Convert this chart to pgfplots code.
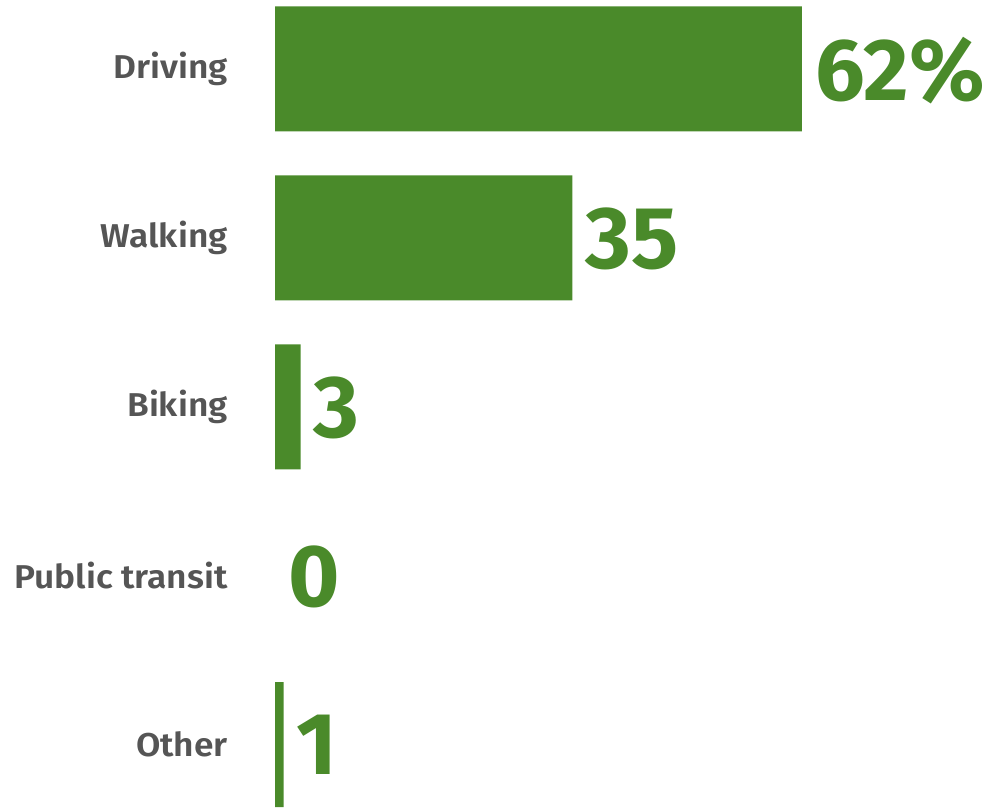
\documentclass[border=0pt]{standalone}
\usepackage{fontspec}
\setmainfont{Fira Sans}
\newfontfamily\labfont[FakeStretch=1.07]{Fira Sans SemiBold}
\usepackage{pgfplots}
\usepackage{pgfplotstable}
\pgfplotsset{compat=1.18}
\definecolor{barg}{HTML}{4A8A2A}
\definecolor{labg}{HTML}{555555}
\pgfplotstableread{
y val lab
0 62 62\%
1 35 35
2 3 3
3 0 0
4 1 1
}\mydata
\begin{document}
\begin{tikzpicture}
\begin{axis}[
  scale only axis,
  width=493.5pt, height=402pt,
  xmin=-32.353, xmax=83.765,
  ymin=-0.4083, ymax=4.3491,
  y dir=reverse,
  axis line style={draw=none},
  xtick=\empty,
  ytick={0,1,2,3,4},
  yticklabels={Driving,Walking,Biking,Public transit,Other},
  major tick length=0pt,
  yticklabel style={font=\labfont\fontsize{16.5}{18}\selectfont, text=labg, anchor=east, inner sep=0pt, xshift=114pt},
  xbar, bar width=62.5pt, bar shift=0pt,
  clip=false,
]
\addplot[fill=barg, draw=none, x filter/.expression={x==0 ? nan : x}] table[x=val, y=y] {\mydata};
\addplot[draw=none, fill=none,
  point meta=explicit symbolic,
  nodes near coords,
  nodes near coords align={horizontal},
  every node near coord/.append style={font=\fontsize{44}{50}\selectfont\bfseries, text=barg, anchor=west, inner sep=0pt, xshift=6.5pt, text depth=0pt},
] table[x=val, y=y, meta=lab] {\mydata};
\end{axis}
\end{tikzpicture}
\end{document}
